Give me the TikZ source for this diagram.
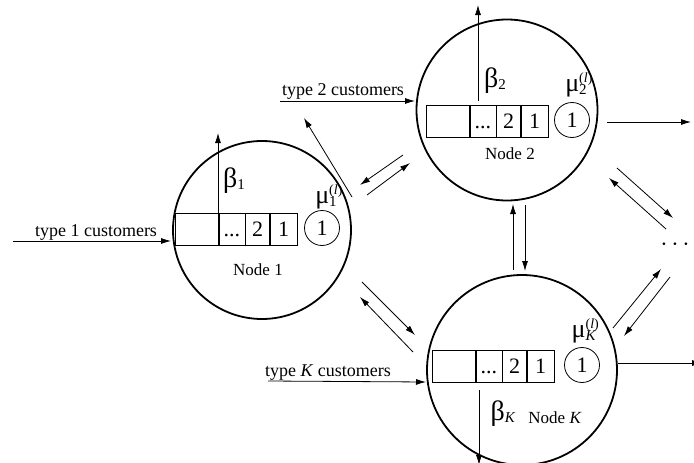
\documentclass[tikz,border=0pt]{standalone}
\usepackage{fontspec}
\setmainfont{Liberation Serif}
\usetikzlibrary{arrows.meta}
\newcommand\drawqueue[3]{%
 \node[cell,minimum width=43pt,anchor=west] (#1a) at (#2,#3) {};
 \node[cell,minimum width=26pt,anchor=west] (#1b) at (#1a.east) {...};
 \node[cell,minimum width=24pt,anchor=west] (#1c) at (#1b.east) {2};
 \node[cell,minimum width=27pt,anchor=west] (#1d) at (#1c.east) {1};}
\newcommand\betalab[1]{{\fontsize{28}{28}\selectfont β}\raisebox{-2pt}{\fontsize{15}{15}\selectfont #1}}
\newcommand\mulab[1]{{\fontsize{26}{26}\selectfont μ}\rlap{\raisebox{9pt}{\fontsize{14}{14}\selectfont(\textit{l})}}\raisebox{-3pt}{\fontsize{15}{15}\selectfont #1}}
\begin{document}
\begin{tikzpicture}[x=1pt,y=-1pt,
 station/.style={circle,draw,line width=1.8pt,inner sep=0},
 cell/.style={draw,line width=0.6pt,minimum height=32pt,inner sep=0,text height=14pt,text depth=0pt,font=\fontsize{22}{22}\selectfont},
 server/.style={circle,draw,line width=0.8pt,minimum size=35pt,inner sep=0,font=\fontsize{22}{22}\selectfont},
 flow/.style={-{Latex[length=10pt,width=6pt]},line width=0.8pt},
 lab/.style={font=\fontsize{18}{20}\selectfont,inner sep=0},
 nlab/.style={font=\fontsize{17}{18}\selectfont,inner sep=0},
 glab/.style={inner sep=0,text depth=0pt},
 ]
\useasboundingbox (0,0) rectangle (694,463);
\clip (0,0) rectangle (694,463);
% stations
\node[station,minimum size=178pt] (n1) at (262,230) {};
\node[station,minimum size=181pt] (n2) at (507,110) {};
\node[station,minimum size=190pt] (nK) at (522,370) {};
% queues
\drawqueue{q1}{175}{229}
\drawqueue{q2}{426}{121}
\drawqueue{qK}{432}{366}
% servers
\node[server] (s1) at (322,228) {1};
\node[server] (s2) at (572,120) {1};
\node[server] (sK) at (582,365) {1};
% labels
\node[nlab] (l1) at (258,270) {Node 1};
\node[nlab] (l2) at (510,154) {Node 2};
\node[nlab] (lK) at (555,418) {Node \textit{K}};
\node[glab,anchor=base] (b1) at (234,187) {\betalab{1}};
\node[glab,anchor=base] (b2) at (495,87) {\betalab{2}};
\node[glab,anchor=base] (bK) at (503,420) {\betalab{\textit{K}}};
\node[glab,anchor=base] (m1) at (326,203) {\mulab{1}};
\node[glab,anchor=base] (m2) at (576,91) {\mulab{2}};
\node[glab,anchor=base] (mK) at (584,337) {\mulab{\textit{K}}};
% beta arrows
\coordinate (b1s) at (218,213);
\coordinate (b1e) at (218,133);
\draw[flow] (b1s) -- (b1e);
\coordinate (b2s) at (478,101);
\coordinate (b2e) at (478,5);
\draw[flow] (b2s) -- (b2e);
\coordinate (bKs) at (479,390);
\coordinate (bKe) at (479,465);
\draw[flow] (bKs) -- (bKe);
% external arrivals
\node[lab,anchor=base] (t1) at (96,236) {type 1 customers};
\coordinate (t1s) at (13,241);
\coordinate (t1e) at (171,241);
\draw[flow] (t1s) -- (t1e);
\node[lab,anchor=base] (t2) at (343,95) {type 2 customers};
\coordinate (t2s) at (280,101);
\coordinate (t2e) at (415,101);
\draw[flow] (t2s) -- (t2e);
\node[lab,anchor=base] (tK) at (328,376) {type \textit{K} customers};
\coordinate (tKs) at (268,381);
\coordinate (tKe) at (426,382);
\draw[flow] (tKs) -- (tKe);
% departures
\coordinate (d1s) at (352,197);
\coordinate (d1e) at (304,118);
\draw[flow] (d1s) -- (d1e);
\coordinate (d2s) at (607,122);
\coordinate (d2e) at (691,122);
\draw[flow] (d2s) -- (d2e);
\coordinate (dKs) at (618,363);
\coordinate (dKe) at (702,363);
\draw[flow] (dKs) -- (dKe);
% node1 <-> node2
\coordinate (a1) at (403,155); \coordinate (a2) at (360,185);
\draw[flow] (a1) -- (a2);
\coordinate (a3) at (367,195); \coordinate (a4) at (410,163);
\draw[flow] (a3) -- (a4);
% node1 <-> nodeK
\coordinate (c1) at (362,282); \coordinate (c2) at (415,335);
\draw[flow] (c1) -- (c2);
\coordinate (c3) at (413,352); \coordinate (c4) at (360,297);
\draw[flow] (c3) -- (c4);
% node2 <-> nodeK
\coordinate (e1) at (513,270); \coordinate (e2) at (513,204);
\draw[flow] (e1) -- (e2);
\coordinate (e3) at (525,205); \coordinate (e4) at (525,271);
\draw[flow] (e3) -- (e4);
% dots
\node[inner sep=0,font=\fontsize{22}{22}\selectfont] (dots) at (675,247) {·\,·\,·};
% node2 <-> dots
\coordinate (f1) at (617,168); \coordinate (f2) at (673,218);
\draw[flow] (f1) -- (f2);
\coordinate (f3) at (666,229); \coordinate (f4) at (609,178);
\draw[flow] (f3) -- (f4);
% dots <-> nodeK
\coordinate (g1) at (613,328); \coordinate (g2) at (661,269);
\draw[flow] (g1) -- (g2);
\coordinate (g3) at (670,277); \coordinate (g4) at (624,336);
\draw[flow] (g3) -- (g4);
\end{tikzpicture}
\end{document}
